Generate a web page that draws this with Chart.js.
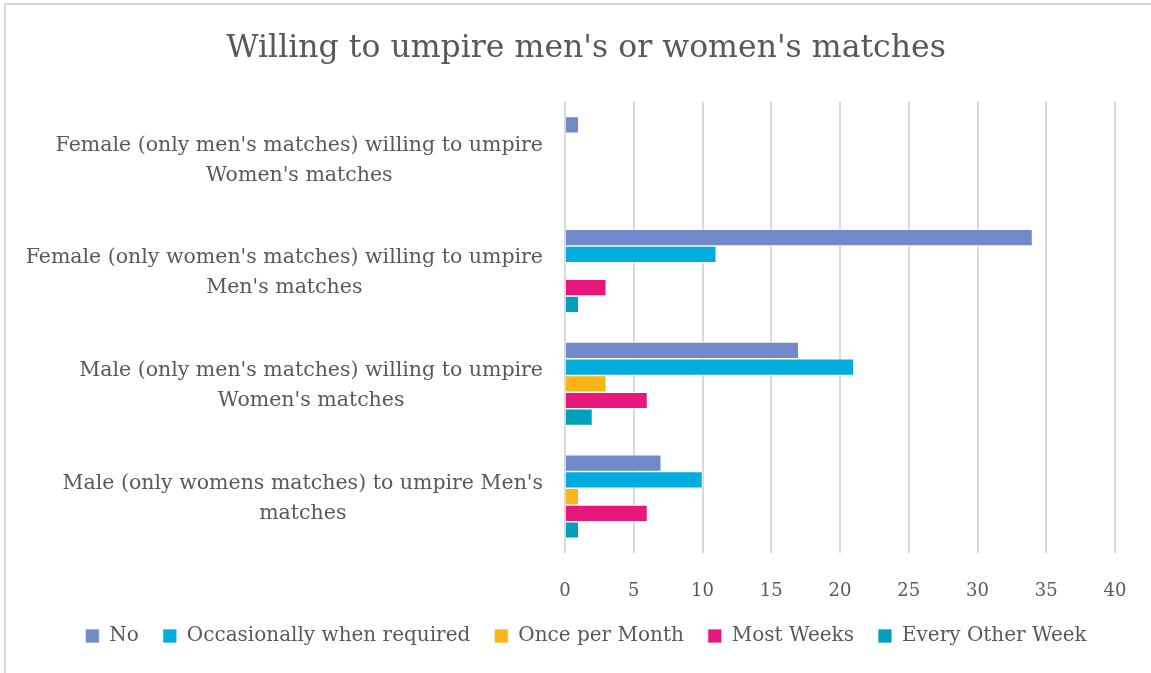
<!DOCTYPE html>
<html>
<head>
<meta charset="utf-8">
<script src="https://cdn.jsdelivr.net/npm/chart.js@4.4.1/dist/chart.umd.min.js"></script>
<style>
    html, body { margin: 0; padding: 0; background: #ffffff; overflow: hidden; }
    #frame { position: absolute; left: 4px; top: 3px; width: 1200px; height: 720px; border: 2px solid #d9d9d9; }
    #wrap { position: absolute; left: 0; top: 0; width: 1151px; height: 673px; }
</style>
</head>
<body>
<div id="frame"></div>
<div id="wrap"><canvas id="umpireChart"></canvas></div>
<script>
// Categories, top to bottom
const categories = [
    ["Female (only men's matches) willing to umpire", "Women's matches"],
    ["Female (only women's matches) willing to umpire", "Men's matches"],
    ["Male (only men's matches) willing to umpire", "Women's matches"],
    ["Male (only womens matches) to umpire Men's", "matches"]
];

const seriesNames = ['No', 'Occasionally when required', 'Once per Month', 'Most Weeks', 'Every Other Week'];
const seriesColors = ['#7189c8', '#00addd', '#fdb515', '#e8177b', '#009fbb'];

const noValues = [1, 34, 17, 7];
const occasionallyValues = [0, 11, 21, 10];
const oncePerMonthValues = [0, 0, 3, 1];
const mostWeeksValues = [0, 3, 6, 6];
const everyOtherWeekValues = [0, 1, 2, 1];

const xTicks = [0, 5, 10, 15, 20, 25, 30, 35, 40];

const FONT = "'DejaVu Serif', serif";
const TEXT_COLOR = '#595959';

// Draws the category labels right-aligned as a block, with lines centred inside it
const categoryLabels = {
    id: 'categoryLabels',
    afterDraw(chart) {
        const ctx = chart.ctx;
        const yScale = chart.scales.y;
        const rightEdge = 543;
        const lineGap = 30;
        ctx.save();
        ctx.font = '20.5px ' + FONT;
        ctx.fillStyle = TEXT_COLOR;
        ctx.textAlign = 'center';
        ctx.textBaseline = 'middle';
        categories.forEach((lines, i) => {
            const y = yScale.getPixelForValue(i) + 2;
            const maxW = Math.max(...lines.map(l => ctx.measureText(l).width));
            const cx = rightEdge - maxW / 2;
            const startY = y - (lines.length - 1) * lineGap / 2;
            lines.forEach((line, j) => ctx.fillText(line, cx, startY + j * lineGap));
        });
        ctx.restore();
    }
};

const seriesData = [noValues, occasionallyValues, oncePerMonthValues, mostWeeksValues, everyOtherWeekValues];

const ctx = document.getElementById('umpireChart').getContext('2d');
new Chart(ctx, {
    type: 'bar',
    data: {
        labels: categories.map(c => c.join(' ')),
        datasets: seriesNames.map((name, i) => ({
            label: name,
            data: seriesData[i],
            backgroundColor: seriesColors[i],
            borderColor: '#ffffff',
            borderWidth: 0.75,
            categoryPercentage: 0.74,
            barPercentage: 1.0
        }))
    },
    options: {
        indexAxis: 'y',
        responsive: true,
        maintainAspectRatio: false,
        animation: false,
        layout: {
            padding: { left: 57, right: 36, top: 0, bottom: 17 }
        },
        plugins: {
            title: {
                display: true,
                text: "Willing to umpire men's or women's matches",
                color: TEXT_COLOR,
                font: { family: FONT, size: 31.5, weight: 'normal' },
                padding: { top: 30, bottom: 34 }
            },
            legend: {
                position: 'bottom',
                labels: {
                    color: TEXT_COLOR,
                    font: { family: FONT, size: 20 },
                    boxWidth: 14,
                    boxHeight: 14,
                    padding: 24
                }
            },
            tooltip: { enabled: false }
        },
        scales: {
            x: {
                min: 0,
                max: 40,
                afterBuildTicks(scale) {
                    scale.ticks = xTicks.map(v => ({ value: v }));
                },
                afterFit(scale) {
                    scale.height = 49;
                    scale.paddingLeft = 0;
                    scale.paddingRight = 0;
                },
                grid: { color: '#d9d9d9', lineWidth: 2, drawTicks: false },
                border: { display: false },
                ticks: {
                    color: TEXT_COLOR,
                    font: { family: FONT, size: 18 },
                    padding: 28
                }
            },
            y: {
                afterFit(scale) { scale.width = 508; },
                grid: { display: false },
                border: { display: false },
                ticks: { display: false }
            }
        }
    },
    plugins: [categoryLabels]
});
</script>
</body>
</html>
